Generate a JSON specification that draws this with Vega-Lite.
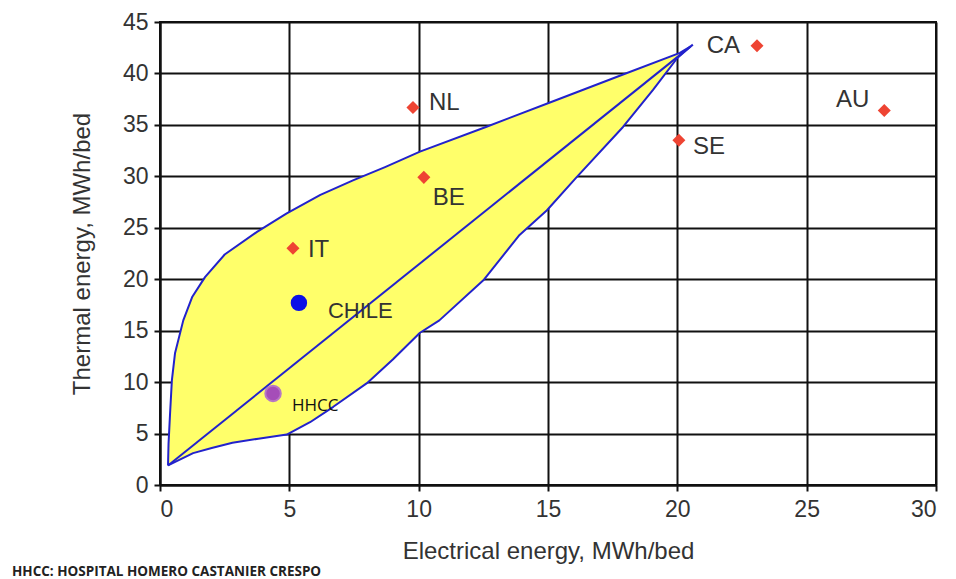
{
  "$schema": "https://vega.github.io/schema/vega-lite/v6.json",
  "autosize": "none",
  "width": 776,
  "height": 463,
  "padding": {"left": 160, "top": 22, "right": 20, "bottom": 94},
  "background": "white",
  "config": {
    "view": {"stroke": "#111", "strokeWidth": 2},
    "font": "Liberation Sans",
    "axis": {
      "grid": true, "gridColor": "#111", "gridWidth": 2, "gridOpacity": 1,
      "domainColor": "#111", "domainWidth": 2,
      "tickColor": "#111", "tickWidth": 2, "tickSize": 6,
      "labelFont": "Liberation Sans", "labelFontSize": 23, "labelColor": "#333",
      "titleFont": "Liberation Sans", "titleFontSize": 24, "titleFontWeight": "normal", "titleColor": "#333"
    }
  },
  "title": {
    "text": "HHCC: HOSPITAL HOMERO CASTANIER CRESPO",
    "orient": "bottom", "anchor": "start", "frame": "group",
    "dx": -148, "dy": 6, "offset": 10, "baseline": "bottom",
    "font": "Open Sans", "fontSize": 13.5, "fontWeight": "bold", "color": "#222"
  },
  "datasets": {
    "poly": [
      {"i": 0, "x": 0.31, "y": 1.9}, {"i": 1, "x": 0.33, "y": 4}, {"i": 2, "x": 0.39, "y": 7},
      {"i": 3, "x": 0.46, "y": 10.2}, {"i": 4, "x": 0.58, "y": 12.8}, {"i": 5, "x": 0.9, "y": 16},
      {"i": 6, "x": 1.25, "y": 18.3}, {"i": 7, "x": 1.74, "y": 20.2}, {"i": 8, "x": 2.5, "y": 22.4},
      {"i": 9, "x": 3.75, "y": 24.6}, {"i": 10, "x": 4.9, "y": 26.4}, {"i": 11, "x": 6.2, "y": 28.2},
      {"i": 12, "x": 7.46, "y": 29.6}, {"i": 13, "x": 8.7, "y": 30.9}, {"i": 14, "x": 10.05, "y": 32.4},
      {"i": 15, "x": 12.6, "y": 34.8}, {"i": 16, "x": 15.1, "y": 37.2}, {"i": 17, "x": 17.8, "y": 39.8},
      {"i": 18, "x": 20.1, "y": 42.0}, {"i": 19, "x": 20.5, "y": 42.6},
      {"i": 20, "x": 20.0, "y": 41.5}, {"i": 21, "x": 19.06, "y": 38.4}, {"i": 22, "x": 17.9, "y": 34.8},
      {"i": 23, "x": 16.1, "y": 29.9}, {"i": 24, "x": 14.96, "y": 26.7}, {"i": 25, "x": 13.9, "y": 24.3},
      {"i": 26, "x": 12.5, "y": 19.9}, {"i": 27, "x": 10.8, "y": 16}, {"i": 28, "x": 10.05, "y": 14.8},
      {"i": 29, "x": 9, "y": 12.2}, {"i": 30, "x": 8, "y": 9.9}, {"i": 31, "x": 6.7, "y": 7.6},
      {"i": 32, "x": 5.8, "y": 6.1}, {"i": 33, "x": 4.9, "y": 4.9}, {"i": 34, "x": 3.8, "y": 4.5},
      {"i": 35, "x": 2.8, "y": 4.1}, {"i": 36, "x": 2.0, "y": 3.6}, {"i": 37, "x": 1.28, "y": 3.1},
      {"i": 38, "x": 0.31, "y": 1.9}
    ],
    "diag": [
      {"i": 0, "x": 0.31, "y": 1.9}, {"i": 1, "x": 20.6, "y": 42.8}
    ],
    "pts": [
      {"label": "CA", "x": 23.08, "y": 42.7, "kind": "country"},
      {"label": "AU", "x": 28.0, "y": 36.4, "kind": "country"},
      {"label": "SE", "x": 20.06, "y": 33.5, "kind": "country"},
      {"label": "NL", "x": 9.78, "y": 36.7, "kind": "country"},
      {"label": "BE", "x": 10.2, "y": 29.9, "kind": "country"},
      {"label": "IT", "x": 5.14, "y": 23.0, "kind": "country"},
      {"label": "CHILE", "x": 5.37, "y": 17.7, "kind": "chile"},
      {"label": "HHCC", "x": 4.37, "y": 8.9, "kind": "hhcc"}
    ]
  },
  "encoding": {
    "x": {"field": "x", "type": "quantitative", "scale": {"domain": [0, 30], "nice": false},
          "axis": {"values": [0, 5, 10, 15, 20, 25, 30], "title": "Electrical energy, MWh/bed", "labelPadding": 7, "titlePadding": 18}},
    "y": {"field": "y", "type": "quantitative", "scale": {"domain": [0, 45], "nice": false},
          "axis": {"values": [0, 5, 10, 15, 20, 25, 30, 35, 40, 45], "title": "Thermal energy, MWh/bed", "labelPadding": 6, "titlePadding": 28}}
  },
  "layer": [
    {
      "data": {"name": "poly"},
      "mark": {"type": "line", "fill": "#ffff6a", "filled": true, "stroke": "#2222cc", "strokeWidth": 2, "interpolate": "linear", "strokeJoin": "round"},
      "encoding": {"order": {"field": "i", "type": "quantitative"}}
    },
    {
      "data": {"name": "diag"},
      "mark": {"type": "line", "stroke": "#2222cc", "strokeWidth": 2},
      "encoding": {"order": {"field": "i", "type": "quantitative"}}
    },
    {
      "data": {"name": "pts"},
      "transform": [{"filter": "datum.kind == 'country'"}],
      "mark": {"type": "point", "shape": "diamond", "filled": true, "color": "#ee4433", "size": 170, "opacity": 1}
    },
    {
      "data": {"name": "pts"},
      "transform": [{"filter": "datum.kind == 'chile'"}],
      "mark": {"type": "circle", "color": "#0a10e6", "size": 270, "opacity": 1}
    },
    {
      "data": {"name": "pts"},
      "transform": [{"filter": "datum.kind == 'hhcc'"}],
      "mark": {"type": "circle", "color": "#a54db8", "size": 240, "opacity": 1, "stroke": "#b777c4", "strokeWidth": 2}
    },
    {
      "data": {"name": "pts"},
      "transform": [{"filter": "datum.label == 'CA'"}],
      "mark": {"type": "text", "align": "right", "baseline": "middle", "dx": -17, "dy": 0, "fontSize": 24, "color": "#333", "font": "Liberation Sans"},
      "encoding": {"text": {"field": "label"}}
    },
    {
      "data": {"name": "pts"},
      "transform": [{"filter": "datum.label == 'AU'"}],
      "mark": {"type": "text", "align": "right", "baseline": "middle", "dx": -15, "dy": -10, "fontSize": 24, "color": "#333", "font": "Liberation Sans"},
      "encoding": {"text": {"field": "label"}}
    },
    {
      "data": {"name": "pts"},
      "transform": [{"filter": "datum.label == 'SE'"}],
      "mark": {"type": "text", "align": "left", "baseline": "middle", "dx": 14, "dy": 7, "fontSize": 24, "color": "#333", "font": "Liberation Sans"},
      "encoding": {"text": {"field": "label"}}
    },
    {
      "data": {"name": "pts"},
      "transform": [{"filter": "datum.label == 'NL'"}],
      "mark": {"type": "text", "align": "left", "baseline": "middle", "dx": 16, "dy": -4, "fontSize": 24, "color": "#333", "font": "Liberation Sans"},
      "encoding": {"text": {"field": "label"}}
    },
    {
      "data": {"name": "pts"},
      "transform": [{"filter": "datum.label == 'BE'"}],
      "mark": {"type": "text", "align": "left", "baseline": "middle", "dx": 9, "dy": 21, "fontSize": 24, "color": "#333", "font": "Liberation Sans"},
      "encoding": {"text": {"field": "label"}}
    },
    {
      "data": {"name": "pts"},
      "transform": [{"filter": "datum.label == 'IT'"}],
      "mark": {"type": "text", "align": "left", "baseline": "middle", "dx": 15, "dy": 2, "fontSize": 24, "color": "#333", "font": "Liberation Sans"},
      "encoding": {"text": {"field": "label"}}
    },
    {
      "data": {"name": "pts"},
      "transform": [{"filter": "datum.label == 'CHILE'"}],
      "mark": {"type": "text", "align": "left", "baseline": "middle", "dx": 29, "dy": 8, "fontSize": 22, "color": "#333", "font": "Liberation Sans"},
      "encoding": {"text": {"field": "label"}}
    },
    {
      "data": {"name": "pts"},
      "transform": [{"filter": "datum.label == 'HHCC'"}],
      "mark": {"type": "text", "align": "left", "baseline": "middle", "dx": 19, "dy": 13, "fontSize": 17, "color": "#111", "font": "Open Sans"},
      "encoding": {"text": {"field": "label"}}
    }
  ]
}
